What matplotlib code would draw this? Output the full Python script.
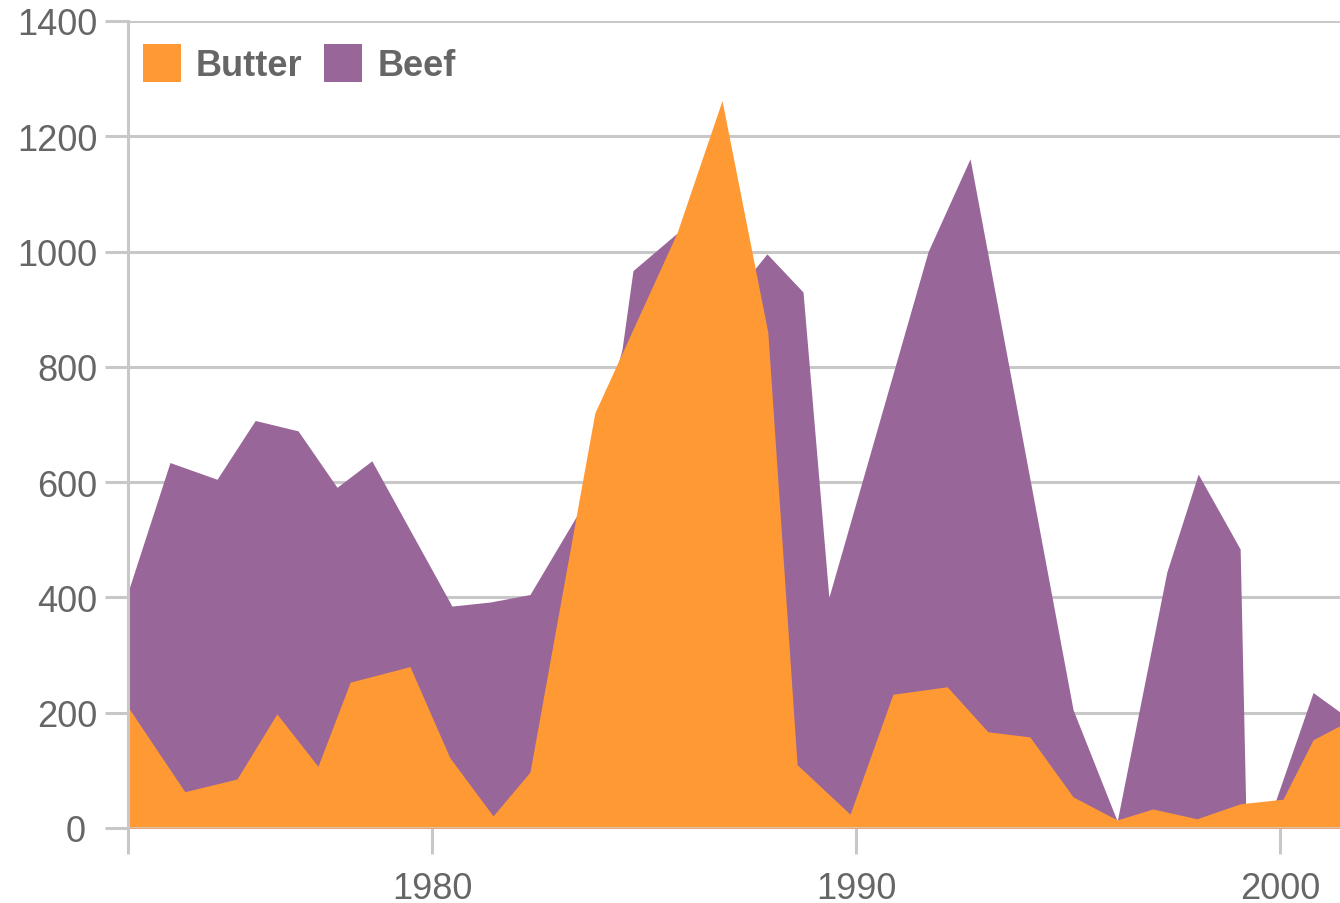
import matplotlib
matplotlib.use("Agg")
import matplotlib.pyplot as plt
from matplotlib.patches import Patch

plt.rcParams["font.family"] = ["Liberation Sans", "DejaVu Sans"]

# dados (anos fracionarios, toneladas)
butter_years = [1972.83, 1974.17, 1975.40, 1976.34, 1977.31, 1978.07, 1979.48,
                1980.42, 1981.44, 1982.31, 1983.84, 1985.78, 1986.84, 1987.92,
                1988.61, 1989.86, 1990.87, 1992.15, 1993.11, 1994.10, 1995.12,
                1996.16, 1997.00, 1998.04, 1999.06, 2000.07, 2000.78, 2001.53]
butter_vals = [210, 63, 85, 198, 107, 253, 280,
               122, 21, 97, 720, 1033, 1262, 860,
               110, 24, 232, 245, 167, 158, 54,
               14, 33, 16, 42, 50, 153, 182]

beef_years = [1972.81, 1973.82, 1974.93, 1975.83, 1976.84, 1977.76, 1978.58,
              1980.47, 1981.37, 1982.31, 1983.44, 1984.48, 1984.74, 1985.78,
              1986.84, 1987.90, 1988.75, 1989.36, 1991.70, 1992.69, 1995.12,
              1996.16, 1997.33, 1998.07, 1999.06, 1999.20, 1999.72, 2000.78,
              2001.53]
beef_vals = [405, 634, 605, 707, 689, 591, 637,
             385, 392, 405, 545, 830, 967, 1032,
             900, 996, 930, 400, 1000, 1161, 205,
             12, 444, 614, 484, 5, 10, 235,
             195]

y_ticks = [0, 200, 400, 600, 800, 1000, 1200, 1400]
x_ticks = [1980, 1990, 2000]

orange = "#ff9933"
purple = "#996699"
grey = "#c8c8c8"
txt = "#666666"

fig = plt.figure(figsize=(13.4, 9.04), dpi=100)
ax = fig.add_axes([128 / 1340, 75 / 904, 1 - 128 / 1340, 807 / 904])

x0 = 1972.83
ax.set_xlim(x0, x0 + 1212 / 42.4)
ax.set_ylim(0, 1400)

for v in y_ticks[1:]:
    ax.axhline(v, color=grey, lw=2.2, zorder=0)

ax.fill_between(beef_years, 0, beef_vals, color=purple, lw=0, zorder=1)
ax.fill_between(butter_years, 0, butter_vals, color=orange, lw=0, zorder=2)
ax.axhline(0, color="#dcc2aa", lw=2.2, zorder=3)

for s in ["top", "right", "bottom"]:
    ax.spines[s].set_visible(False)
ax.spines["left"].set_color(grey)
ax.spines["left"].set_linewidth(2.2)
ax.spines["left"].set_zorder(4)

ax.set_yticks(y_ticks)
ax.set_yticklabels([str(v) for v in y_ticks])
ax.set_xticks([x0] + x_ticks)
ax.set_xticklabels([""] + [str(v) for v in x_ticks])
ax.tick_params(axis="y", length=16.5, width=2.2, color=grey, pad=5.5,
               labelsize=26, labelcolor=txt)
ax.tick_params(axis="x", length=18.7, width=2.2, color=grey, pad=12,
               labelsize=26, labelcolor=txt)
# o "0" fica um pouco mais a esquerda no original
ax.yaxis.get_major_ticks()[0].label1.set_x(-12 / 1212)

handles = [Patch(facecolor=orange, edgecolor="none"),
           Patch(facecolor=purple, edgecolor="none")]
leg = ax.legend(handles, ["Butter", "Beef"], loc="upper left",
                bbox_to_anchor=(0.0124, 0.9717), ncol=2, frameon=False,
                prop={"weight": "bold", "size": 26},
                handlelength=1.05, handleheight=1.245, handletextpad=0.42,
                columnspacing=0.6, borderaxespad=0, borderpad=0)
for t in leg.get_texts():
    t.set_color(txt)

fig.savefig("out.png", dpi=100)
